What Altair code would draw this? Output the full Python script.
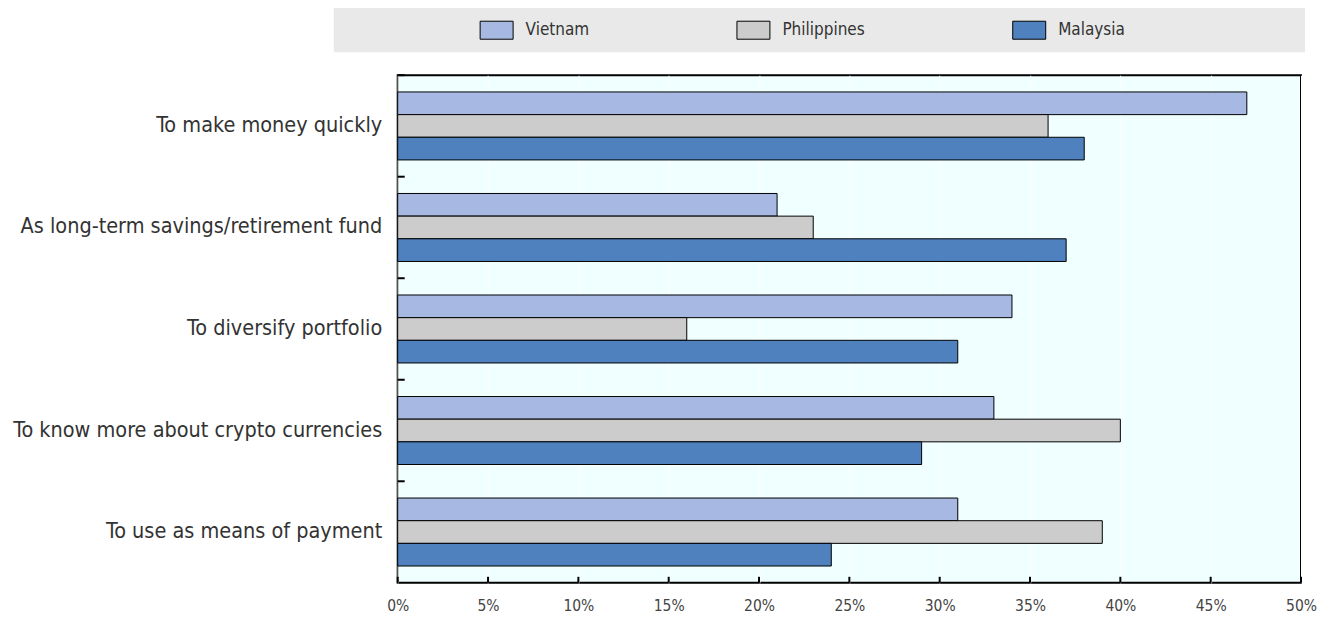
import altair as alt
import pandas as pd

categories = [
    "To make money quickly",
    "As long-term savings/retirement fund",
    "To diversify portfolio",
    "To know more about crypto currencies",
    "To use as means of payment",
]
series = ["Vietnam", "Philippines", "Malaysia"]
vietnam = [47, 21, 34, 33, 31]
philippines = [36, 23, 16, 40, 39]
malaysia = [38, 37, 31, 29, 24]
colors = ["#A7B9E3", "#CCCCCC", "#4E81BD"]
x_ticks = [0, 5, 10, 15, 20, 25, 30, 35, 40, 45, 50]

rows = []
for s, vals in zip(series, [vietnam, philippines, malaysia]):
    for c, v in zip(categories, vals):
        rows.append({"cat": c, "series": s, "value": v})
df = pd.DataFrame(rows)
cat_df = pd.DataFrame({"cat": categories})
tick_df = pd.DataFrame({"t": x_ticks})
band_df = pd.DataFrame({"a": [0]})

FONT = "'DejaVu Sans Condensed', 'Liberation Sans', sans-serif"
W, H = 904, 508

xscale = alt.Scale(domain=[0, 50], nice=False, zero=True)
yscale = alt.Scale(domain=categories, paddingInner=0, paddingOuter=0)

bars = alt.Chart(df).mark_bar(stroke="#000000", strokeWidth=1).encode(
    x=alt.X("value:Q", scale=xscale,
            axis=alt.Axis(values=x_ticks, labelExpr="datum.value + '%'", title=None,
                          grid=True, gridColor="#FFFFFF", gridWidth=1,
                          ticks=False, domain=False, labelFontSize=15.5, labelFlush=False,
                          labelColor="#444444", labelPadding=16, labelFont=FONT)),
    y=alt.Y("cat:N", scale=yscale, sort=categories,
            axis=alt.Axis(title=None, ticks=False, domain=False, grid=False,
                          labelFontSize=21.5, labelColor="#333333", labelPadding=16,
                          labelFont=FONT, labelLimit=500)),
    yOffset=alt.YOffset("series:N", sort=series,
                        scale=alt.Scale(domain=series, paddingInner=0, paddingOuter=0.74)),
    color=alt.Color("series:N", sort=series,
                    scale=alt.Scale(domain=series, range=colors),
                    legend=alt.Legend(title=None, orient="none", direction="horizontal",
                                      legendX=82, legendY=-62, columnPadding=145,
                                      symbolType="M-1,-0.545H1V0.545H-1Z", symbolSize=1089,
                                      symbolStrokeColor="#000000", symbolStrokeWidth=1,
                                      labelFontSize=17, labelFont=FONT, labelColor="#333333",
                                      labelOffset=12, padding=0)),
)

ytick = alt.Chart(cat_df).mark_rule(color="#000000", strokeWidth=2).encode(
    y=alt.Y("cat:N", sort=categories, bandPosition=0),
    x=alt.value(0), x2=alt.value(7),
)

xtick = alt.Chart(tick_df).mark_rule(color="#000000", strokeWidth=2).encode(
    x=alt.X("t:Q"),
    y=alt.value(H), y2=alt.value(H - 6),
)

band = alt.Chart(band_df).mark_rect(color="#E9E9E9").encode(
    x=alt.value(-64), x2=alt.value(W + 4), y=alt.value(-70), y2=alt.value(-23),
)

chart = alt.layer(band, bars, ytick, xtick).properties(
    width=W, height=H,
    autosize=alt.AutoSizeParams(type="none"),
    padding={"left": 390, "top": 67, "right": 18, "bottom": 36},
    background="#FFFFFF",
).configure_view(
    fill="#F0FFFF", stroke="#000000", strokeWidth=2,
)

chart.save("out.html", embed_options={"renderer": "svg", "actions": False})
